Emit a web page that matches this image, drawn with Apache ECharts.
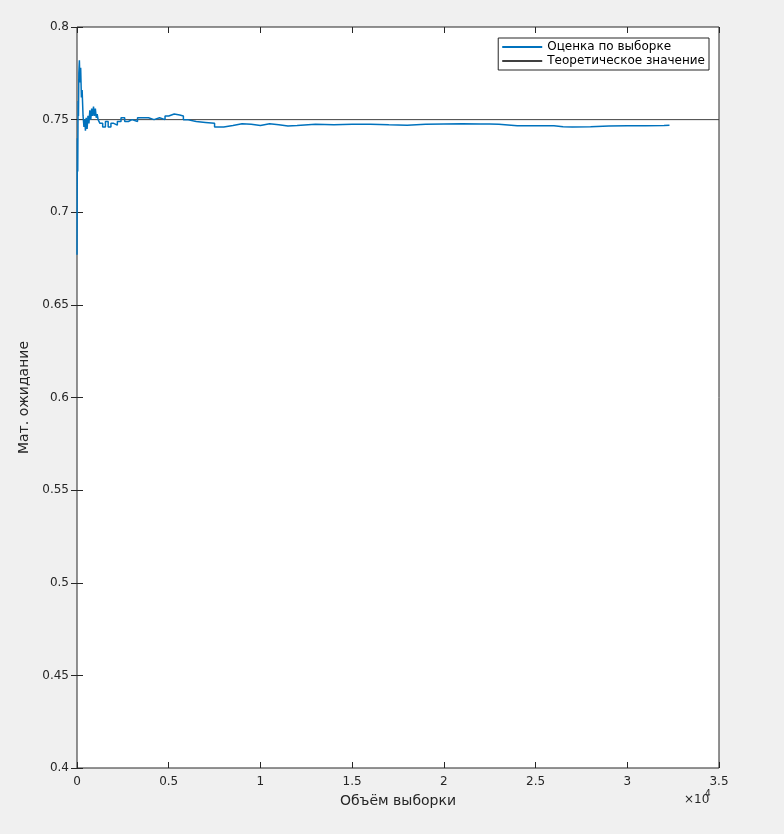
<!DOCTYPE html>
<html>
<head>
<meta charset="utf-8">
<script src="https://cdn.jsdelivr.net/npm/echarts@6/dist/echarts.min.js"></script>
<style>
html, body { margin: 0; padding: 0; background: #f0f0f0; }
#chart { width: 784px; height: 834px; }
</style>
</head>
<body>
<div id="chart"></div>
<script>
const sampleSizes = [1, 20, 40, 60, 80, 100, 130, 160, 200, 240, 280, 330, 380, 420, 460, 500, 550, 600, 650, 700, 750, 800, 850, 900, 950, 1000, 1050, 1100, 1150, 1250, 1400, 1550, 1700, 1850, 2000, 2200, 2400, 2600, 2800, 3000, 3300, 3600, 3900, 4200, 4500, 4800, 5000, 5300, 5600, 5800, 6000, 6500, 7000, 7500, 8000, 8500, 9000, 9500, 10000, 10500, 11000, 11500, 12000, 13000, 14000, 15000, 16000, 17000, 18000, 19000, 20000, 21000, 22000, 22500, 23000, 24000, 25000, 26000, 26500, 27000, 28000, 29000, 30000, 31000, 32000, 32300];
const estimates = [0.677, 0.74, 0.722, 0.76, 0.752, 0.775, 0.782, 0.770, 0.778, 0.762, 0.766, 0.752, 0.746, 0.750, 0.744, 0.751, 0.745, 0.752, 0.748, 0.755, 0.750, 0.756, 0.752, 0.757, 0.752, 0.756, 0.751, 0.753, 0.750, 0.748, 0.746, 0.749, 0.746, 0.748, 0.747, 0.749, 0.751, 0.749, 0.750, 0.749, 0.751, 0.751, 0.750, 0.751, 0.750, 0.752, 0.753, 0.7525, 0.752, 0.750, 0.749, 0.7485, 0.748, 0.746, 0.7468, 0.7478, 0.7475, 0.7468, 0.7478, 0.7472, 0.7465, 0.7468, 0.7475, 0.7472, 0.7475, 0.7475, 0.7472, 0.747, 0.7475, 0.7477, 0.7478, 0.7477, 0.7477, 0.7475, 0.7467, 0.7467, 0.7467, 0.7462, 0.746, 0.7462, 0.7465, 0.7467, 0.7467, 0.7468, 0.747, 0.747];
const theoretical = 0.75;
const xMax = 35000;

const estData = sampleSizes.map((n, i) => [n, estimates[i]]);
const font = 'DejaVu Sans';

const chart = echarts.init(document.getElementById('chart'));
chart.setOption({
    backgroundColor: '#f0f0f0',
    animation: false,
    textStyle: { fontFamily: font },
    grid: { left: 77, right: 65, top: 27, bottom: 66, show: true, backgroundColor: '#fff', borderColor: '#262626', borderWidth: 1 },
    legend: {
        right: 75, top: 38, orient: 'vertical', itemGap: 2, itemWidth: 40, itemHeight: 2,
        backgroundColor: '#fff', borderColor: '#262626', borderWidth: 1, padding: [3, 4],
        textStyle: { fontSize: 12, color: '#000', fontFamily: font },
        icon: 'rect'
    },
    xAxis: [{
        type: 'value', min: 0, max: xMax, interval: 5000,
        name: 'Объём выборки', nameLocation: 'middle', nameGap: 26,
        nameTextStyle: { fontSize: 14, color: '#262626' },
        axisLine: { show: false },
        axisTick: { inside: true, length: 6, lineStyle: { color: '#262626' } },
        axisLabel: { color: '#262626', fontSize: 12, formatter: v => String(v / 10000) },
        splitLine: { show: false }
    }, {
        type: 'value', position: 'top', min: 0, max: xMax, interval: 5000,
        axisLine: { show: false }, axisLabel: { show: false },
        axisTick: { inside: true, length: 6, lineStyle: { color: '#262626' } },
        splitLine: { show: false }
    }],
    yAxis: [{
        type: 'value', min: 0.4, max: 0.8, interval: 0.05,
        name: 'Мат. ожидание', nameLocation: 'middle', nameGap: 45,
        nameTextStyle: { fontSize: 14, color: '#262626' },
        axisLine: { show: false },
        axisTick: { inside: true, length: 6, lineStyle: { color: '#262626' } },
        axisLabel: { color: '#262626', fontSize: 12, formatter: v => String(+v.toFixed(2)) },
        splitLine: { show: false }
    }, {
        type: 'value', position: 'right', min: 0.4, max: 0.8, interval: 0.05,
        axisLine: { show: false }, axisLabel: { show: false },
        axisTick: { inside: true, length: 6, lineStyle: { color: '#262626' } },
        splitLine: { show: false }
    }],
    graphic: [{
        type: 'text', left: 684, top: 794,
        style: { text: '×10', fontSize: 12, fill: '#262626', fontFamily: font }
    }, {
        type: 'text', left: 705, top: 789,
        style: { text: '4', fontSize: 9, fill: '#262626', fontFamily: font }
    }],
    series: [{
        name: 'Оценка по выборке', type: 'line', step: 'end', data: estData,
        showSymbol: false, lineStyle: { color: '#0072bd', width: 1.5 }, itemStyle: { color: '#0072bd' }
    }, {
        name: 'Теоретическое значение', type: 'line', data: [[0, theoretical], [xMax, theoretical]],
        showSymbol: false, lineStyle: { color: '#404040', width: 1 }, itemStyle: { color: '#404040' }, z: 1
    }]
});
</script>
</body>
</html>
